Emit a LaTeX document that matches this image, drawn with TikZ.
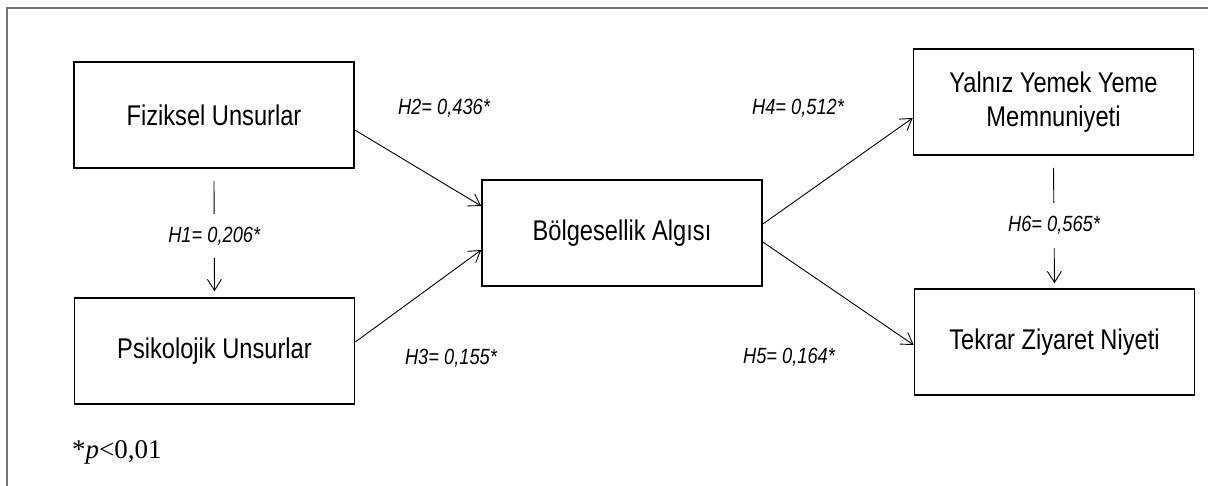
\documentclass[tikz,border=0pt]{standalone}
\usepackage{fontspec}
\setmainfont{Liberation Sans}[FakeStretch=0.83]
\newfontfamily\notefont{Liberation Serif}
\usetikzlibrary{arrows.meta}

\begin{document}
\begin{tikzpicture}[x=1pt,y=-1pt,
  box/.style={draw, line width=1.6pt, minimum width=280pt, minimum height=106pt,
    align=center, inner sep=0pt, font=\fontsize{28.5}{34}\selectfont},
  link/.style={line width=0.9pt,
    -{Straight Barb[length=11pt,width=14pt,line width=0.9pt]}},
  coef/.style={font=\fontsize{22}{26}\selectfont\itshape, inner sep=1pt},
  frameline/.style={draw=black!55, line width=1.8pt}]
\useasboundingbox (0,0) rectangle (1208,486);

% open frame (left and top edges)
\draw[frameline] (7,492) -- (7,8) -- (1214,8);

% constructs
\node[box] (fiz) at (214,115)   {Fiziksel Unsurlar};
\node[box] (psi) at (214.5,351) {Psikolojik Unsurlar};
\node[box] (bol) at (622,233)   {Bölgesellik Algısı};
\node[box] (yal) at (1053.5,102){Yalnız Yemek Yeme\\Memnuniyeti};
\node[box] (tek) at (1054.5,342){Tekrar Ziyaret Niyeti};

% paths with coefficients
\draw[link] ([yshift=-12pt]fiz.south) -- ([yshift=6pt]psi.north)
  node[midway, coef, fill=white, inner xsep=2pt, inner ysep=13pt] (h1) {H1= 0,206*};
\draw[link] ([yshift=-12pt]yal.south) -- ([yshift=5pt]tek.north)
  node[midway, coef, fill=white, inner xsep=2pt, inner ysep=13pt] (h6) {H6= 0,565*};

\draw[link] ([yshift=-15pt]fiz.east) -- ([yshift=27pt]bol.west);
\draw[link] ([yshift=9pt]psi.east)  -- ([yshift=-17pt]bol.west);
\draw[link] ([yshift=9pt]bol.east)  -- ([yshift=-16pt]yal.west);
\draw[link] ([yshift=-9pt]bol.east) -- ([yshift=-3pt]tek.west);

\node[coef] (h2) at (444,108) {H2= 0,436*};
\node[coef] (h3) at (451,358) {H3= 0,155*};
\node[coef] (h4) at (798,108) {H4= 0,512*};
\node[coef] (h5) at (789,357) {H5= 0,164*};

% significance note
\node[anchor=west, inner sep=0pt, font=\notefont\fontsize{27}{31}\selectfont]
  (note) at (72,452) {*\textit{p}<0,01};
\end{tikzpicture}
\end{document}
